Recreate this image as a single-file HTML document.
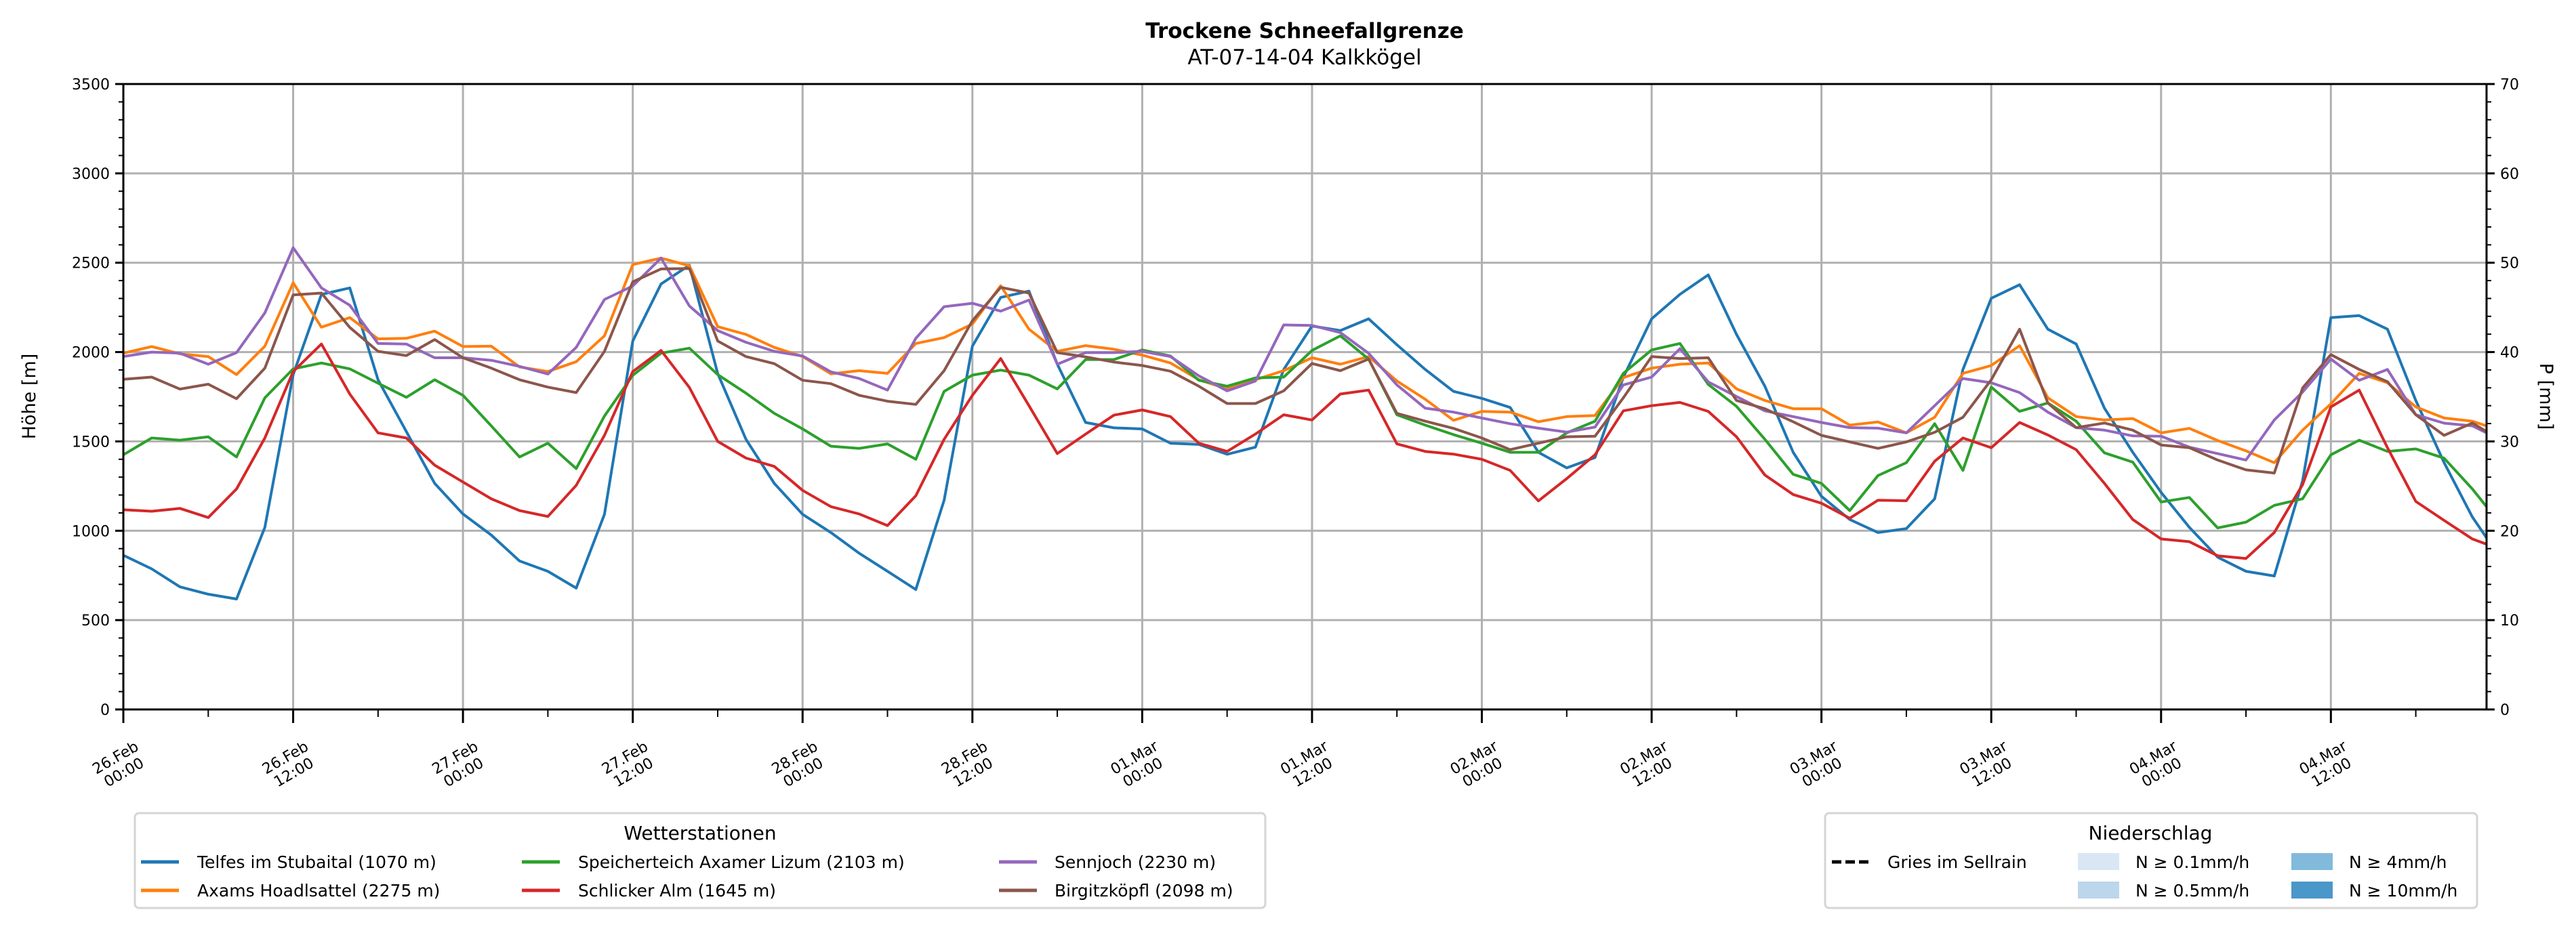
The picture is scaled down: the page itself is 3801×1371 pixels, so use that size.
<!DOCTYPE html>
<html><head><meta charset="utf-8"><style>
html,body{margin:0;padding:0;background:#fff;}
svg{display:block;font-family:"DejaVu Sans","Liberation Sans",sans-serif;}
</style></head><body>
<svg id="chart" width="3801" height="1371" viewBox="0 0 3801 1371" xmlns="http://www.w3.org/2000/svg">
<rect width="3801" height="1371" fill="#fff"/>
<text x="1925" y="56" font-size="31" font-weight="bold" text-anchor="middle">Trockene Schneefallgrenze</text>
<text x="1925" y="95" font-size="31" text-anchor="middle">AT-07-14-04 Kalkkögel</text>
<g id="grid"></g>
<g id="series"></g>
<g id="axes"></g>
<text transform="translate(52,585) rotate(-90)" font-size="27" text-anchor="middle">Höhe [m]</text>
<text transform="translate(3748,585) rotate(90)" font-size="27" text-anchor="middle">P [mm]</text>

<g>
<rect x="199" y="1200" width="1668" height="140" rx="6" fill="#fff" stroke="#d5d5d5" stroke-width="3"/>
<text x="1033" y="1239" font-size="28" text-anchor="middle">Wetterstationen</text>
<g><line x1="208" y1="1272" x2="264" y2="1272" stroke="#1f77b4" stroke-width="5"/><text x="291" y="1281" font-size="25">Telfes im Stubaital (1070 m)</text></g>
<g><line x1="208" y1="1314" x2="264" y2="1314" stroke="#ff7f0e" stroke-width="5"/><text x="291" y="1323" font-size="25">Axams Hoadlsattel (2275 m)</text></g>
<g><line x1="770" y1="1272" x2="826" y2="1272" stroke="#2ca02c" stroke-width="5"/><text x="853" y="1281" font-size="25">Speicherteich Axamer Lizum (2103 m)</text></g>
<g><line x1="770" y1="1314" x2="826" y2="1314" stroke="#d62728" stroke-width="5"/><text x="853" y="1323" font-size="25">Schlicker Alm (1645 m)</text></g>
<g><line x1="1474" y1="1272" x2="1530" y2="1272" stroke="#9467bd" stroke-width="5"/><text x="1556" y="1281" font-size="25">Sennjoch (2230 m)</text></g>
<g><line x1="1474" y1="1314" x2="1530" y2="1314" stroke="#8c564b" stroke-width="5"/><text x="1556" y="1323" font-size="25">Birgitzköpfl (2098 m)</text></g>
</g>

<g>
<rect x="2693" y="1200" width="962" height="140" rx="6" fill="#fff" stroke="#d5d5d5" stroke-width="3"/>
<text x="3173" y="1239" font-size="28" text-anchor="middle">Niederschlag</text>
<g><line x1="2703" y1="1272" x2="2758" y2="1272" stroke="#000" stroke-width="5" stroke-dasharray="14,6"/><text x="2785" y="1281" font-size="25">Gries im Sellrain</text></g>
<g><rect x="3066" y="1259" width="61" height="25" fill="#d9e7f5"/><text x="3151" y="1281" font-size="25">N ≥ 0.1mm/h</text></g>
<g><rect x="3066" y="1301" width="61" height="25" fill="#bcd6ec"/><text x="3151" y="1323" font-size="25">N ≥ 0.5mm/h</text></g>
<g><rect x="3381" y="1259" width="61" height="25" fill="#82badb"/><text x="3466" y="1281" font-size="25">N ≥ 4mm/h</text></g>
<g><rect x="3381" y="1301" width="61" height="25" fill="#4a97c9"/><text x="3466" y="1323" font-size="25">N ≥ 10mm/h</text></g>
</g>
</svg>
<script>
const hours = [0,2,4,6,8,10,12,14,16,18,20,22,24,26,28,30,32,34,36,38,40,42,44,46,48,50,52,54,56,58,60,62,64,66,68,70,72,74,76,78,80,82,84,86,88,90,92,94,96,98,100,102,104,106,108,110,112,114,116,118,120,122,124,126,128,130,132,134,136,138,140,142,144,146,148,150,152,154,156,158,160,162,164,166,167];
const telfes = [863,787,686,645,618,1019,1874,2323,2359,1845,1555,1265,1094,976,831,773,679,1092,2062,2381,2486,1880,1512,1265,1092,990,874,773,671,1171,2033,2306,2341,1932,1606,1576,1570,1490,1483,1428,1468,1903,2146,2120,2186,2041,1903,1780,1741,1690,1439,1352,1410,1859,2186,2323,2432,2099,1809,1439,1193,1063,990,1012,1179,1903,2301,2377,2128,2045,1686,1439,1215,1019,852,773,747,1280,2193,2204,2128,1729,1381,1077,961];
const axams = [1994,2031,1990,1975,1874,2033,2388,2139,2193,2074,2077,2117,2031,2033,1917,1891,1946,2091,2490,2526,2483,2142,2099,2026,1975,1878,1896,1881,2048,2081,2157,2371,2128,2004,2036,2016,1983,1939,1845,1794,1845,1896,1968,1932,1975,1838,1736,1618,1668,1664,1610,1639,1645,1857,1910,1932,1939,1794,1729,1683,1683,1591,1609,1548,1635,1881,1925,2036,1744,1639,1620,1628,1548,1573,1505,1447,1381,1563,1710,1881,1828,1693,1631,1613,1587];
const speicherteich = [1425,1519,1507,1526,1413,1744,1906,1939,1906,1826,1747,1845,1758,1587,1413,1490,1348,1642,1870,1994,2022,1874,1770,1657,1570,1473,1461,1486,1400,1780,1871,1899,1871,1794,1958,1958,2012,1978,1842,1809,1855,1860,2009,2091,1961,1649,1591,1538,1490,1439,1439,1548,1613,1881,2012,2048,1819,1696,1512,1316,1265,1113,1309,1381,1599,1338,1804,1668,1715,1613,1436,1384,1161,1186,1016,1048,1142,1179,1425,1507,1444,1458,1406,1234,1135];
const schlicker = [1118,1109,1125,1074,1234,1519,1891,2045,1765,1548,1519,1367,1273,1179,1113,1080,1254,1534,1891,2009,1802,1500,1407,1360,1226,1135,1094,1029,1196,1512,1758,1964,1700,1432,1541,1647,1676,1639,1490,1444,1541,1649,1620,1765,1787,1486,1444,1429,1400,1338,1167,1292,1425,1671,1700,1718,1668,1526,1312,1203,1154,1070,1171,1168,1389,1519,1465,1606,1536,1454,1265,1063,954,939,860,845,990,1258,1693,1787,1465,1164,1058,954,925];
const sennjoch = [1975,2000,1994,1932,1997,2219,2584,2359,2262,2048,2045,1968,1968,1954,1920,1877,2026,2294,2370,2526,2258,2120,2055,2004,1978,1889,1852,1787,2077,2254,2273,2229,2291,1932,1997,1997,2004,1975,1867,1783,1838,2152,2149,2109,1993,1816,1686,1664,1631,1599,1574,1552,1580,1816,1860,2019,1833,1751,1671,1639,1606,1577,1574,1548,1700,1852,1828,1773,1664,1577,1563,1531,1529,1468,1432,1396,1620,1776,1961,1842,1903,1649,1602,1587,1548];
const birgitz = [1848,1860,1793,1820,1739,1910,2320,2330,2138,2004,1980,2070,1968,1910,1845,1804,1773,2004,2393,2465,2468,2062,1975,1935,1842,1823,1758,1725,1707,1896,2175,2362,2330,1997,1973,1944,1925,1893,1809,1712,1712,1783,1936,1896,1961,1657,1613,1573,1519,1454,1490,1526,1529,1744,1975,1964,1968,1729,1683,1610,1534,1497,1461,1497,1551,1635,1845,2128,1715,1577,1603,1563,1480,1465,1396,1341,1323,1799,1986,1903,1834,1649,1534,1603,1555];
const yTicks = [0,500,1000,1500,2000,2500,3000,3500];
const y2Ticks = [0,10,20,30,40,50,60,70];
const xTickDays = ["26.Feb","26.Feb","27.Feb","27.Feb","28.Feb","28.Feb","01.Mar","01.Mar","02.Mar","02.Mar","03.Mar","03.Mar","04.Mar","04.Mar"];
const xTickTimes = ["00:00","12:00","00:00","12:00","00:00","12:00","00:00","12:00","00:00","12:00","00:00","12:00","00:00","12:00"];

const L=182,R=3669,T=124,B=1047,HMAX=167,YMAX=3500,PMAX=70;
const NS="http://www.w3.org/2000/svg";
function xs(h){return L+(R-L)*h/HMAX;}
function ys(v){return B-(B-T)*v/YMAX;}
function ys2(p){return B-(B-T)*p/PMAX;}
function mk(tag,attrs,parent){const e=document.createElementNS(NS,tag);for(const k in attrs)e.setAttribute(k,attrs[k]);parent.appendChild(e);return e;}
const grid=document.getElementById('grid'),axes=document.getElementById('axes'),ser=document.getElementById('series');

yTicks.forEach(v=>{
  const g=mk('line',{x1:L,x2:R,y1:ys(v),y2:ys(v),stroke:'#b0b0b0','stroke-width':3},grid);
  
  
  const t=mk('line',{x1:L-12,x2:L,y1:ys(v),y2:ys(v),stroke:'#000','stroke-width':3},axes);
  
  
  const lb=mk('text',{x:L-20,y:ys(v)+8,'font-size':22,'text-anchor':'end'},axes);
  lb.textContent=v;
  
  
});
for(let v=100;v<YMAX;v+=100){ if(v%500===0)continue;
  const t=mk('line',{x1:L-7,x2:L,y1:ys(v),y2:ys(v),stroke:'#000','stroke-width':2},axes);
  
  
}
y2Ticks.forEach(p=>{
  const t=mk('line',{x1:R,x2:R+12,y1:ys2(p),y2:ys2(p),stroke:'#000','stroke-width':3},axes);
  
  
  const lb=mk('text',{x:R+20,y:ys2(p)+8,'font-size':22},axes);
  lb.textContent=p;
  
  
});
for(let p=2;p<PMAX;p+=2){ if(p%10===0)continue;
  const t=mk('line',{x1:R,x2:R+7,y1:ys2(p),y2:ys2(p),stroke:'#000','stroke-width':2},axes);
  
  
}
xTickDays.forEach((d,i)=>{
  const h=i*12,x=xs(h);
  if(i>0){const g=mk('line',{x1:x,x2:x,y1:T,y2:B,stroke:'#b0b0b0','stroke-width':3},grid);
  
  }
  const t=mk('line',{x1:x,x2:x,y1:B,y2:B+20,stroke:'#000','stroke-width':3},axes);
  
  
  const m=mk('line',{x1:xs(h+6),x2:xs(h+6),y1:B,y2:B+11,stroke:'#000','stroke-width':2},axes);
  
  
  const lb=mk('text',{transform:`translate(${x-6},1128) rotate(-30)`,'font-size':22,'text-anchor':'middle'},axes);
  
  
  const a=mk('tspan',{x:0,y:-4},lb);a.textContent=d;
  const b=mk('tspan',{x:0,y:21},lb);b.textContent=xTickTimes[i];
});
const series=[['telfes',telfes,'#1f77b4'],['axams',axams,'#ff7f0e'],['speicherteich',speicherteich,'#2ca02c'],['schlicker',schlicker,'#d62728'],['sennjoch',sennjoch,'#9467bd'],['birgitz',birgitz,'#8c564b']];
series.forEach(([n,vals,c])=>{
  const d=vals.map((v,i)=>(i?'L':'M')+xs(hours[i]).toFixed(1)+','+ys(v).toFixed(1)).join(' ');
  const p=mk('path',{d:d,fill:'none',stroke:c,'stroke-width':4,'stroke-linejoin':'round'},ser);
  
  
});
const fr=mk('rect',{x:L,y:T,width:R-L,height:B-T,fill:'none',stroke:'#000','stroke-width':3},axes);


</script>
</body></html>
